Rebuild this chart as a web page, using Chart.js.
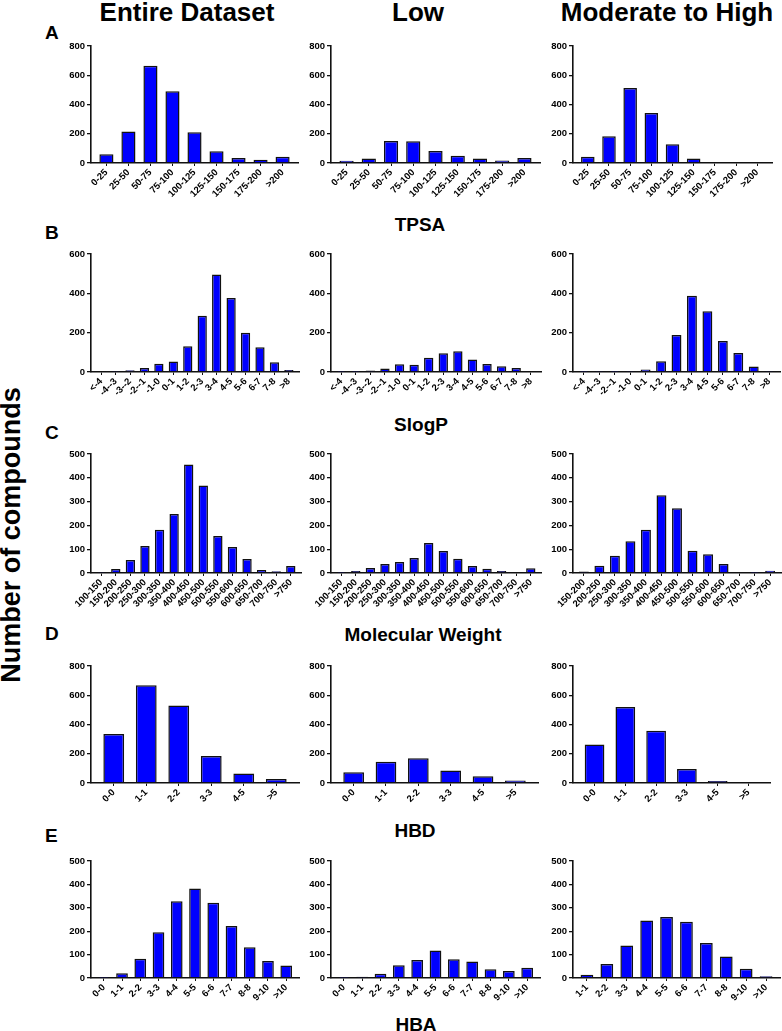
<!DOCTYPE html>
<html>
<head>
<meta charset="utf-8">
<script src="https://cdn.jsdelivr.net/npm/chart.js@4.4.1/dist/chart.umd.min.js"></script>
<style>
  html, body { margin: 0; padding: 0; background: #fff; }
  #figure { position: relative; width: 782px; height: 1031px; overflow: hidden; font-family: "Liberation Sans", Arial, sans-serif; color: #000; }
  #figure canvas { position: absolute; }
  .txt { position: absolute; font-weight: bold; line-height: 1; white-space: nowrap; }
  .col-title { font-size: 26px; transform: translateX(-50%); }
  .row-title { font-size: 19px; transform: translateX(-50%); }
  .panel { font-size: 19px; }
  .y-title { font-size: 27px; transform: translate(-50%, -50%) rotate(-90deg); }
</style>
</head>
<body>
<div id="figure">
  <div class="txt col-title" style="left:187px; top:-1px;">Entire Dataset</div>
  <div class="txt col-title" style="left:418px; top:-1px;">Low</div>
  <div class="txt col-title" style="left:667px; top:-1px;">Moderate to High</div>

  <div class="txt panel" style="left:45px; top:23px;">A</div>
  <div class="txt panel" style="left:45px; top:223px;">B</div>
  <div class="txt panel" style="left:45px; top:423px;">C</div>
  <div class="txt panel" style="left:45px; top:624px;">D</div>
  <div class="txt panel" style="left:45px; top:826px;">E</div>

  <div class="txt row-title" style="left:420px; top:215px;">TPSA</div>
  <div class="txt row-title" style="left:421px; top:415px;">SlogP</div>
  <div class="txt row-title" style="left:423px; top:625px;">Molecular Weight</div>
  <div class="txt row-title" style="left:415px; top:821px;">HBD</div>
  <div class="txt row-title" style="left:416px; top:1015px;">HBA</div>

  <div class="txt y-title" style="left:11px; top:535px;">Number of compounds</div>
</div>

<script>
// Category labels
const tpsaLabels = ['0-25', '25-50', '50-75', '75-100', '100-125', '125-150', '150-175', '175-200', '>200'];
const slogpLabels = ['<-4', '-4--3', '-3--2', '-2--1', '-1-0', '0-1', '1-2', '2-3', '3-4', '4-5', '5-6', '6-7', '7-8', '>8'];
const slogpLabelsModHigh = ['<-4', '-4--3', '-2--1', '-1-0', '0-1', '1-2', '2-3', '3-4', '4-5', '5-6', '6-7', '7-8', '>8'];
const mwLabels = ['100-150', '150-200', '200-250', '250-300', '300-350', '350-400', '400-450', '450-500', '500-550', '550-600', '600-650', '650-700', '700-750', '>750'];
const mwLabelsModHigh = ['150-200', '200-250', '250-300', '300-350', '350-400', '400-450', '450-500', '500-550', '550-600', '600-650', '650-700', '700-750', '>750'];
const hbdLabels = ['0-0', '1-1', '2-2', '3-3', '4-5', '>5'];
const hbaLabels = ['0-0', '1-1', '2-2', '3-3', '4-4', '5-5', '6-6', '7-7', '8-8', '9-10', '>10'];
const hbaLabelsModHigh = ['1-1', '2-2', '3-3', '4-4', '5-5', '6-6', '7-7', '8-8', '9-10', '>10'];

// Counts
const tpsaEntire = [60, 215, 665, 490, 210, 80, 35, 22, 42];
const tpsaLow = [15, 30, 150, 148, 82, 50, 30, 17, 35];
const tpsaModHigh = [43, 183, 513, 342, 128, 30, 5, 6, 6];

const slogpEntire = [5, 3, 9, 20, 42, 53, 131, 286, 496, 376, 199, 126, 49, 10];
const slogpLow = [1, 1, 8, 18, 39, 37, 73, 95, 105, 63, 41, 29, 20, 5];
const slogpModHigh = [1, 2, 1, 2, 13, 55, 188, 388, 309, 158, 97, 28, 3];

const mwEntire = [2, 17, 55, 113, 182, 248, 456, 368, 155, 109, 59, 13, 7, 29];
const mwLow = [1, 8, 21, 38, 46, 63, 126, 92, 60, 29, 18, 8, 3, 20];
const mwModHigh = [6, 30, 72, 133, 182, 327, 272, 93, 79, 38, 3, 1, 9];

const hbdEntire = [335, 668, 530, 185, 65, 27];
const hbdLow = [73, 145, 170, 85, 47, 17];
const hbdModHigh = [263, 520, 357, 96, 13, 5];

const hbaEntire = [1, 20, 82, 196, 328, 382, 322, 222, 131, 73, 53];
const hbaLow = [1, 5, 18, 54, 77, 118, 80, 70, 37, 30, 44];
const hbaModHigh = [14, 60, 139, 246, 261, 240, 150, 92, 40, 8];

// Y axis ranges per row
const yMaxByRow = [800, 600, 500, 800, 500];
const yStepByRow = [200, 200, 100, 200, 100];

// Plot-area geometry (pixels) for rows and columns
const rowTop = [46, 254, 454, 666, 861];
const rowBottom = [163, 372, 573, 783, 978];
const colLeft = [91, 331, 573];
const colRight = [
  [298, 540, 772],
  [299, 541, 780],
  [301, 541, 781],
  [299, 538, 770],
  [299, 540, 780]
];

const Y_AXIS_W = 30;
const X_AXIS_H = 46;
const PAD_TOP = 8;
const PAD_RIGHT = 6;
// Prism leaves a small gap between the axes and the first/last bar
const CATEGORY_INSET = 0.2;
const FONT = '"Liberation Sans", Arial, sans-serif';

const panels = [
  [[tpsaLabels, tpsaEntire], [tpsaLabels, tpsaLow], [tpsaLabels, tpsaModHigh]],
  [[slogpLabels, slogpEntire], [slogpLabels, slogpLow], [slogpLabelsModHigh, slogpModHigh]],
  [[mwLabels, mwEntire], [mwLabels, mwLow], [mwLabelsModHigh, mwModHigh]],
  [[hbdLabels, hbdEntire], [hbdLabels, hbdLow], [hbdLabels, hbdModHigh]],
  [[hbaLabels, hbaEntire], [hbaLabels, hbaLow], [hbaLabelsModHigh, hbaModHigh]]
];

function renderHistogram(row, col, labels, values) {
  const fig = document.getElementById('figure');
  const plotW = colRight[row][col] - colLeft[col];
  const plotH = rowBottom[row] - rowTop[row];

  const canvas = document.createElement('canvas');
  const w = plotW + Y_AXIS_W + PAD_RIGHT;
  const h = plotH + PAD_TOP + X_AXIS_H;
  canvas.width = w;
  canvas.height = h;
  canvas.style.width = w + 'px';
  canvas.style.height = h + 'px';
  canvas.style.left = (colLeft[col] - Y_AXIS_W) + 'px';
  canvas.style.top = (rowTop[row] - PAD_TOP) + 'px';
  fig.appendChild(canvas);

  const tickFont = { family: FONT, size: 9.5, weight: 'bold' };

  return new Chart(canvas, {
    type: 'bar',
    data: {
      labels: labels,
      datasets: [{
        data: values,
        backgroundColor: '#0000ff',
        borderColor: '#111111',
        borderWidth: 1.5,
        barPercentage: 0.64,
        categoryPercentage: 1.0
      }]
    },
    options: {
      responsive: false,
      animation: false,
      layout: { padding: { top: PAD_TOP, right: PAD_RIGHT, left: 0, bottom: 0 } },
      plugins: {
        legend: { display: false },
        tooltip: { enabled: false }
      },
      scales: {
        x: {
          ticks: { autoSkip: false, maxRotation: 45, minRotation: 45, color: '#000', font: tickFont, padding: 1 },
          grid: { drawOnChartArea: false, offset: false, tickLength: 3, color: '#111', lineWidth: 1 },
          border: { color: '#111', width: 1.6 },
          afterBuildTicks: (scale) => {
            scale._startValue -= CATEGORY_INSET;
            scale._valueRange += 2 * CATEGORY_INSET;
          },
          afterFit: (scale) => { scale.height = X_AXIS_H; }
        },
        y: {
          min: 0,
          max: yMaxByRow[row],
          ticks: { stepSize: yStepByRow[row], color: '#000', font: tickFont, padding: 2 },
          grid: { drawOnChartArea: false, tickLength: 4, color: '#111', lineWidth: 1.3 },
          border: { color: '#111', width: 1.6 },
          afterFit: (scale) => { scale.width = Y_AXIS_W; }
        }
      }
    }
  });
}

panels.forEach((rowPanels, r) => {
  rowPanels.forEach(([labels, values], c) => renderHistogram(r, c, labels, values));
});
</script>
</body>
</html>
